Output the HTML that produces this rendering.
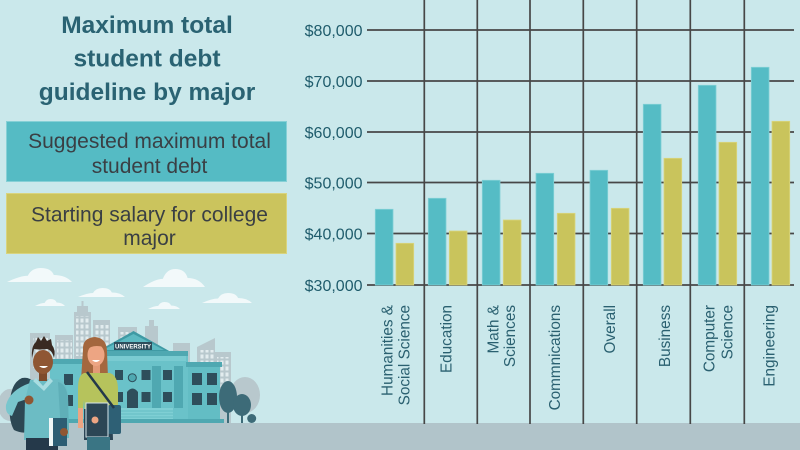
<!DOCTYPE html>
<html><head><meta charset="utf-8">
<style>
html,body{margin:0;padding:0;background:#CAE8EB;}
svg{display:block;}
</style></head><body>
<svg width="800" height="450" viewBox="0 0 800 450" xmlns="http://www.w3.org/2000/svg" font-family="Liberation Sans, sans-serif">
<defs>
<pattern id="win" width="5" height="6" patternUnits="userSpaceOnUse">
<rect x="0.5" y="0.5" width="3" height="4" fill="#E2ECEE"/>
</pattern>
</defs>
<rect width="800" height="450" fill="#CAE8EB"/>
<rect x="0" y="423" width="800" height="27" fill="#B1C4CA"/>

<!-- Title -->
<g fill="#2A6373" font-weight="bold" font-size="24.5" text-anchor="middle">
<text x="147" y="33">Maximum total</text>
<text x="147" y="66.5">student debt</text>
<text x="147" y="100">guideline by major</text>
</g>

<!-- Legend -->
<rect x="6.5" y="121.5" width="280" height="60" fill="#55BBC4" stroke="#86D0D6" stroke-width="1"/>
<rect x="6.5" y="193.5" width="280" height="60" fill="#CBC45D" stroke="#D9D47E" stroke-width="1"/>
<g fill="#3A3F44" font-size="21" text-anchor="middle">
<text x="149.5" y="148">Suggested maximum total</text>
<text x="149.5" y="173">student debt</text>
<text x="149.5" y="221.5">Starting salary for college</text>
<text x="149.5" y="245">major</text>
</g>

<!-- Grid -->
<g stroke="#474747" stroke-width="1.7">
<line x1="367" y1="30" x2="794" y2="30"/>
<line x1="367" y1="81" x2="794" y2="81"/>
<line x1="367" y1="132" x2="794" y2="132"/>
<line x1="367" y1="182.5" x2="794" y2="182.5"/>
<line x1="367" y1="233.5" x2="794" y2="233.5"/>
<line x1="367" y1="285" x2="794" y2="285"/>
<line x1="424.3" y1="0" x2="424.3" y2="424"/>
<line x1="477.3" y1="0" x2="477.3" y2="424"/>
<line x1="530" y1="0" x2="530" y2="424"/>
<line x1="583.3" y1="0" x2="583.3" y2="424"/>
<line x1="636.7" y1="0" x2="636.7" y2="424"/>
<line x1="690.3" y1="0" x2="690.3" y2="424"/>
<line x1="744.3" y1="0" x2="744.3" y2="424"/>
</g>

<!-- Y labels -->
<g fill="#1F5C6C" font-size="16" text-anchor="end">
<text x="362.5" y="36">$80,000</text>
<text x="362.5" y="87">$70,000</text>
<text x="362.5" y="138">$60,000</text>
<text x="362.5" y="188.5">$50,000</text>
<text x="362.5" y="239.5">$40,000</text>
<text x="362.5" y="291">$30,000</text>
</g>

<!-- Bars -->
<g fill="#55BCC5" stroke="#80CFD5" stroke-width="0.8">
<rect x="375.3" y="209.3" width="17.7" height="75.7"/>
<rect x="428.3" y="198.3" width="17.7" height="86.7"/>
<rect x="482.3" y="180.3" width="17.7" height="104.7"/>
<rect x="536" y="173.3" width="17.7" height="111.7"/>
<rect x="590" y="170.3" width="17.7" height="114.7"/>
<rect x="643.3" y="104.3" width="17.7" height="180.7"/>
<rect x="698.3" y="85.3" width="17.7" height="199.7"/>
<rect x="751.3" y="67.3" width="17.7" height="217.7"/>
</g>
<g fill="#C9C45C" stroke="#DAD67E" stroke-width="0.8">
<rect x="396" y="243.3" width="17.7" height="41.7"/>
<rect x="449.3" y="231" width="17.7" height="54"/>
<rect x="503.3" y="220" width="17.7" height="65"/>
<rect x="557.3" y="213.3" width="17.7" height="71.7"/>
<rect x="611.3" y="208.3" width="17.7" height="76.7"/>
<rect x="664" y="158.3" width="17.7" height="126.7"/>
<rect x="719" y="142.3" width="17.7" height="142.7"/>
<rect x="772" y="121.3" width="17.7" height="163.7"/>
</g>

<!-- X labels -->
<g fill="#2A6070" font-size="15.3" text-anchor="end">
<text transform="translate(392.3,305) rotate(-90)">Humanities &amp;</text>
<text transform="translate(409.3,305) rotate(-90)">Social Science</text>
<text transform="translate(451.7,305) rotate(-90)">Education</text>
<text transform="translate(498.3,305) rotate(-90)">Math &amp;</text>
<text transform="translate(515,305) rotate(-90)">Sciences</text>
<text transform="translate(560,305) rotate(-90)">Commnications</text>
<text transform="translate(615,305) rotate(-90)">Overall</text>
<text transform="translate(670,305) rotate(-90)">Business</text>
<text transform="translate(714.5,305) rotate(-90)">Computer</text>
<text transform="translate(732.7,305) rotate(-90)">Science</text>
<text transform="translate(774.5,305) rotate(-90)">Engineering</text>
</g>

<!-- Illustration: clouds -->
<g fill="#F2F9FA">
<path d="M7,282 Q20,275.7 27.8,275.7 Q31.7,268 40.8,268 Q51.2,268 53.8,275 Q65.5,275 72,282Z"/>
<path d="M78,297 Q87.4,293 93,293 Q95.9,288 102.4,288 Q110,288 111.8,292.5 Q120.3,292.5 125,297Z"/>
<path d="M35,306 Q41,302.9 44.6,302.9 Q46.4,299 50.6,299 Q55.4,299 56.6,302.5 Q62,302.5 65,306Z"/>
<path d="M143,287 Q155.4,278.9 162.8,278.9 Q166.6,269 175.2,269 Q185.2,269 187.6,278 Q198.8,278 205,287Z"/>
<path d="M148,309 Q154.4,305.9 158.2,305.9 Q160.2,302 164.6,302 Q169.8,302 171,305.5 Q176.8,305.5 180,309Z"/>
<path d="M202,303 Q212,298.5 218,298.5 Q221,293 228,293 Q236,293 238,298 Q247,298 252,303Z"/>
</g>

<!-- gray city -->
<g fill="#B8C8CD">
<rect x="30" y="333" width="20" height="90"/>
<rect x="55" y="335" width="18" height="88"/>
<rect x="74" y="312" width="17" height="111"/>
<rect x="77" y="306" width="11" height="7"/>
<rect x="81.5" y="301" width="2" height="6"/>
<rect x="93" y="320" width="17" height="103"/>
<rect x="118" y="327" width="19" height="96"/>
<rect x="145" y="326" width="13" height="97"/>
<rect x="149" y="320" width="5" height="7"/>
<rect x="173" y="343" width="17" height="80"/>
<path d="M197,347 L215,338 L215,423 L197,423Z"/>
<rect x="215" y="352" width="16" height="71"/>
<ellipse cx="245" cy="395" rx="15" ry="18"/>
<ellipse cx="10" cy="405" rx="12" ry="16"/>
</g>
<g fill="url(#win)">
<rect x="33" y="338" width="15" height="30"/>
<rect x="57" y="340" width="15" height="30"/>
<rect x="76" y="316" width="14" height="40"/>
<rect x="95" y="325" width="14" height="25"/>
<rect x="120" y="332" width="15" height="20"/>
<rect x="199" y="350" width="15" height="20"/>
<rect x="217" y="357" width="13" height="30"/>
</g>

<!-- University -->
<rect x="50" y="362" width="48" height="59" fill="#6AC2C9"/>
<rect x="48" y="359" width="52" height="5" fill="#4FA8B1"/>
<rect x="97" y="355" width="91" height="66" fill="#6AC2C9"/>
<rect x="188" y="365" width="32" height="56" fill="#63BDC4"/>
<rect x="186" y="362" width="36" height="5" fill="#4FA8B1"/>
<polygon points="96,352 133.5,331 171,352" fill="#3F9AA4"/>
<polygon points="103,350 133.5,334 164,350" fill="#5DBAC2"/>
<rect x="93" y="351" width="95" height="5" fill="#4FA8B1"/>
<rect x="95" y="356" width="91" height="5" fill="#7ACBD1"/>
<rect x="114" y="342" width="38" height="8" fill="#2D4E5C"/>
<text x="133" y="348.5" font-size="6" font-weight="bold" fill="#FFFFFF" text-anchor="middle">UNIVERSITY</text>
<g fill="#2E4E5B">
<rect x="64" y="374" width="9" height="11"/>
<rect x="64" y="395" width="9" height="11"/>
<rect x="115" y="370" width="8" height="10"/>
<rect x="115" y="392" width="8" height="10"/>
<rect x="141.5" y="370" width="9" height="10"/>
<rect x="141.5" y="392" width="9" height="10"/>
<rect x="163" y="370" width="9" height="10"/>
<rect x="163" y="392" width="9" height="10"/>
<rect x="192" y="373" width="10" height="12"/>
<rect x="207" y="373" width="10" height="12"/>
<rect x="192" y="393" width="10" height="12"/>
<rect x="207" y="393" width="10" height="12"/>
<path d="M127,410 L127,392 Q132.5,385 138,392 L138,410Z"/>
</g>
<g fill="#4FA8B1">
<rect x="152" y="366" width="9" height="42"/>
<rect x="174" y="366" width="9" height="42"/>
</g>
<circle cx="132.3" cy="377.7" r="4" fill="#4FA8B1" stroke="#2E4E5B" stroke-width="1"/>
<rect x="118" y="408" width="55" height="13" fill="#7FCFD4"/>
<g stroke="#5CB6BE" stroke-width="0.8">
<line x1="118" y1="411" x2="173" y2="411"/>
<line x1="118" y1="414" x2="173" y2="414"/>
<line x1="118" y1="417" x2="173" y2="417"/>
</g>
<rect x="48" y="419" width="176" height="4" fill="#4FA8B1"/>

<!-- trees -->
<g fill="#3D6B78">
<ellipse cx="228" cy="397" rx="9" ry="16"/>
<rect x="227" y="405" width="2" height="18"/>
<ellipse cx="242" cy="405" rx="9" ry="11"/>
<rect x="241" y="412" width="2" height="11"/>
<circle cx="251.7" cy="418.5" r="4.5"/>
</g>

<!-- Man -->
<path d="M22,378 Q34,376 36,390 L34,428 Q26,436 14,430 Q8,420 10,400 Q12,382 22,378Z" fill="#2C4753"/>
<path d="M30,383 Q10,390 6,405 Q5,414 12,416 L18,402 L30,398Z" fill="#79C6CD"/>
<path d="M30,380 L58,379 Q67,382 68,396 L69,438 L24,440 L25,400 Z" fill="#6CBCC4"/>
<path d="M58,382 Q67,384 68,400 L69,430 L61,431 L59,400Z" fill="#5FAFB8"/>
<path d="M36,378 L43,386 L50,378 L53,381 L44,391 L33,381Z" fill="#A9DDE1"/>
<rect x="39" y="371" width="8" height="10" fill="#7E4A2C"/>
<ellipse cx="43" cy="362" rx="10" ry="12" fill="#8F5633"/>
<path d="M32,358 Q31,346 36,342 L38,337 L41,341 L44,336 L47,341 L51,339 L52,345 Q56,350 54,358 Q52,350 47,349 Q40,350 34,349Z" fill="#3A2A22"/>
<path d="M39,366 Q44,370 48,366Z" fill="#FFFFFF"/>
<circle cx="29" cy="400" r="4.5" fill="#8F5633"/>
<path d="M26,438 L58,438 L58,450 L26,450Z" fill="#25394A"/>
<rect x="49" y="418" width="18" height="28" fill="#2C5D73"/>
<rect x="49" y="418" width="4" height="28" fill="#EEF6F7"/>
<circle cx="64" cy="432" r="4" fill="#8F5633"/>

<!-- Woman -->
<path d="M83,350 Q82,338 95,337 Q107,338 107,352 L108,378 L81,380Z" fill="#A4673E"/>
<rect x="93" y="363" width="7" height="12" fill="#E39A77"/>
<ellipse cx="96" cy="355" rx="8.5" ry="11" fill="#EDA583"/>
<path d="M87,350 Q92,344 104,347 L104,342 Q96,338 87,343Z" fill="#A4673E"/>
<path d="M92,360 Q96,364 100,360Z" fill="#FFFFFF"/>
<path d="M84,373 L110,373 Q118,376 118,390 L118,410 L112,410 L111,400 L110,412 L85,412 L84,400 L83,410 L78,410 L78,388 Q78,375 84,373Z" fill="#B6C35C"/>
<rect x="78" y="408" width="5" height="20" fill="#EDA583"/>
<rect x="112" y="408" width="5" height="14" fill="#EDA583"/>
<path d="M84,409 L112,409 L113,440 L84,440Z" fill="#2B4454"/>
<rect x="108" y="405" width="13" height="29" rx="2" fill="#2E6075"/>
<line x1="87" y1="372" x2="114" y2="408" stroke="#23394A" stroke-width="2.5"/>
<rect x="86" y="403" width="22" height="34" fill="#2C4655" stroke="#D6E6EA" stroke-width="1"/>
<circle cx="95" cy="420" r="3.5" fill="#EDA583"/>
<rect x="87" y="437" width="23" height="13" fill="#3A7584"/>
</svg>
</body></html>
